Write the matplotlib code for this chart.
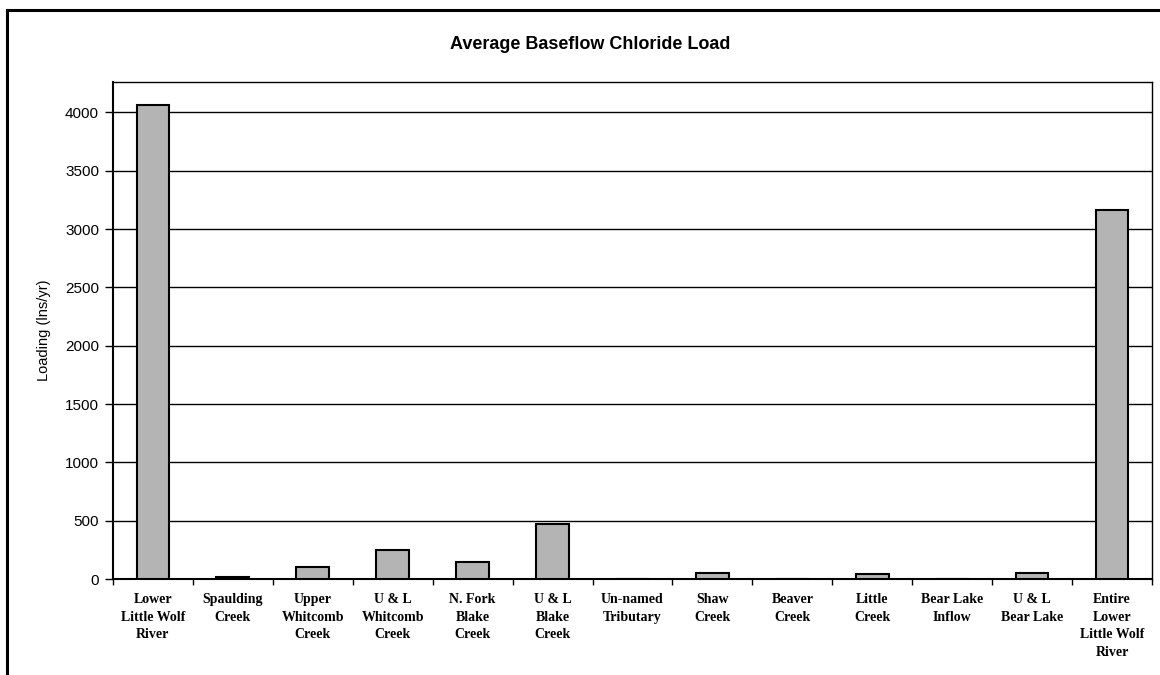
import numpy as np
import matplotlib.pyplot as plt
from matplotlib.lines import Line2D

# baseflow chloride loading per subwatershed
sites = ["Lower\nLittle Wolf\nRiver", "Spaulding\nCreek", "Upper\nWhitcomb\nCreek",
         "U & L\nWhitcomb\nCreek", "N. Fork\nBlake\nCreek", "U & L\nBlake\nCreek",
         "Un-named\nTributary", "Shaw\nCreek", "Beaver\nCreek", "Little\nCreek",
         "Bear Lake\nInflow", "U & L\nBear Lake", "Entire\nLower\nLittle Wolf\nRiver"]
loads = [4060, 17, 99, 245, 146, 474, 0, 55, 0, 47, 0, 55, 3165]
yticks = [0, 500, 1000, 1500, 2000, 2500, 3000, 3500, 4000]

fig = plt.figure(figsize=(11.6, 6.75), dpi=100)
ax = fig.add_axes([0.0974, 0.1422, 0.8957, 0.7363])

x = np.arange(len(sites))
ax.bar(x, loads, width=0.41, color='#b4b4b4', edgecolor='black', linewidth=1.5, zorder=3)

ax.set_xlim(-0.5, len(sites) - 0.5)
ax.set_ylim(0, 4260)
ax.set_yticks(yticks)
ax.yaxis.grid(True, color='black', linewidth=1.0, zorder=0)
ax.tick_params(axis='y', direction='out', length=6, width=1, labelsize=11, pad=4)
for lab in ax.get_yticklabels():
    lab.set_fontfamily('Liberation Sans')

# category ticks sit between the bars
ax.set_xticks(np.arange(len(sites) + 1) - 0.5)
ax.set_xticklabels([])
ax.tick_params(axis='x', direction='out', length=4, width=1)
for xi, name in zip(x, sites):
    ax.text(xi, -120, name, ha='center', va='top', fontsize=10,
            family='Liberation Serif', fontweight='bold', linespacing=1.45)

for side in ['left', 'bottom']:
    ax.spines[side].set_linewidth(1.5)
for side in ['top', 'right']:
    ax.spines[side].set_linewidth(1.0)

ax.set_ylabel("Loading (lns/yr)", fontsize=10.5, family='Liberation Sans', labelpad=10)
fig.text(0.5086, 0.934, "Average Baseflow Chloride Load", ha='center', va='center',
         fontsize=13, family='Liberation Sans', fontweight='bold')

# page frame
fig.add_artist(Line2D([7 / 1160, 7 / 1160], [0.003, 1 - 10 / 675], color='black', linewidth=2.2,
                      transform=fig.transFigure))
fig.add_artist(Line2D([7 / 1160, 1.0], [1 - 10 / 675, 1 - 10 / 675], color='black', linewidth=2.2,
                      transform=fig.transFigure))

fig.savefig("out.png", dpi=100)
